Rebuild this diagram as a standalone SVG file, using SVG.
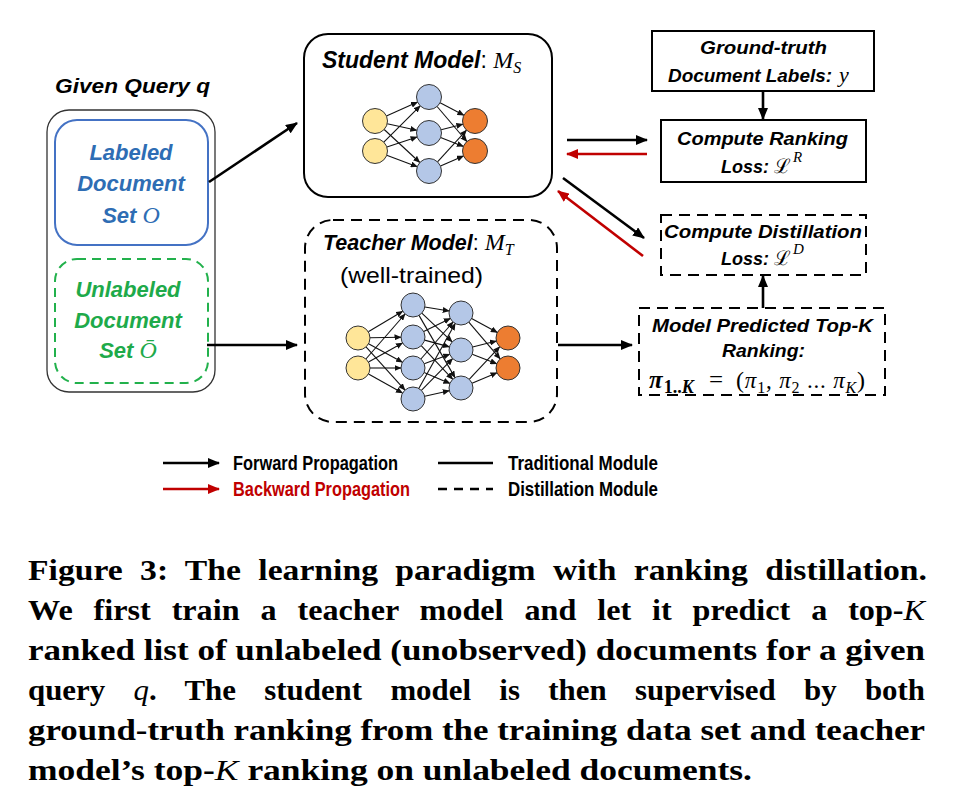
<svg xmlns="http://www.w3.org/2000/svg" width="954" height="810" viewBox="0 0 954 810">
<defs>
<marker id="ah" markerUnits="userSpaceOnUse" markerWidth="12" markerHeight="10" refX="11" refY="5" orient="auto">
<path d="M0,0 L12,5 L0,10 z" fill="#000"/>
</marker>
<marker id="ahr" markerUnits="userSpaceOnUse" markerWidth="12" markerHeight="10" refX="11" refY="5" orient="auto">
<path d="M0,0 L12,5 L0,10 z" fill="#C00000"/>
</marker>
<marker id="sa" markerUnits="userSpaceOnUse" markerWidth="7" markerHeight="6" refX="6.5" refY="3" orient="auto">
<path d="M0,0 L7,3 L0,6 z" fill="#111"/>
</marker>
</defs>
<style>
.lbl{font-family:"Liberation Sans",Arial,sans-serif;font-weight:bold;font-style:italic;fill:#000}
.math{font-family:"Liberation Serif","DejaVu Serif",serif;font-style:italic;font-weight:normal;fill:#000}
.scr{font-family:"DejaVu Serif","Liberation Serif",serif;font-style:normal;font-weight:normal;fill:#000}
.reg{font-family:"Liberation Sans",Arial,sans-serif;font-style:normal;font-weight:normal}
.leg{font-family:"Liberation Sans",Arial,sans-serif;font-weight:bold;font-size:20px;fill:#000}
.cap{font-family:"Liberation Serif","Times New Roman",serif;font-weight:bold;font-size:30px;fill:#000}
.it{font-style:italic;font-weight:normal}
.box{fill:#fff;stroke:#000;stroke-width:2}
.dash{stroke-dasharray:11 7}
.conn{stroke:#000;stroke-width:2.6;fill:none;marker-end:url(#ah)}
.connr{stroke:#C00000;stroke-width:2.6;fill:none;marker-end:url(#ahr)}
.net line{stroke:#111;stroke-width:1.1;marker-end:url(#sa)}
.cy{fill:#FFE699;stroke:#333;stroke-width:1}
.cb{fill:#B4C7E7;stroke:#333;stroke-width:1}
.co{fill:#ED7D31;stroke:#333;stroke-width:1}
</style>
<rect width="954" height="810" fill="#fff"/>

<g id="query">
<text class="lbl" x="55" y="93" font-size="20" textLength="155" lengthAdjust="spacingAndGlyphs">Given Query q</text>
<rect x="47" y="110" width="168" height="282" rx="22" fill="none" stroke="#333" stroke-width="1.3"/>
</g>

<g id="labeled">
<rect x="55" y="120" width="153" height="125" rx="22" fill="#fff" stroke="#4472C4" stroke-width="2"/>
<g class="lbl" font-size="22" text-anchor="middle">
<text x="131" y="160" style="fill:#2E6DB4">Labeled</text>
<text x="131" y="191" style="fill:#2E6DB4">Document</text>
<text x="131" y="223" style="fill:#2E6DB4">Set <tspan class="math" style="fill:#2E6DB4" font-size="24">O</tspan></text>
</g>
</g>

<g id="unlabeled">
<rect x="55" y="259" width="153" height="124" rx="22" fill="#fff" stroke="#22B14C" stroke-width="2" stroke-dasharray="9 6"/>
<g class="lbl" font-size="22" text-anchor="middle">
<text x="128" y="297" style="fill:#1EAA4A">Unlabeled</text>
<text x="128" y="328" style="fill:#1EAA4A">Document</text>
<text x="128" y="358" style="fill:#1EAA4A">Set <tspan class="math" style="fill:#1EAA4A" font-size="24">Ō</tspan></text>
</g>
</g>

<g id="student">
<rect class="box" x="304" y="34" width="248" height="163" rx="24"/>
<text class="lbl" x="322" y="68" font-size="23">Student Model<tspan class="reg">: </tspan><tspan class="math" font-size="24">M</tspan><tspan class="math" font-size="16" dy="5">S</tspan></text>
<g class="net">
<line x1="386.4" y1="115.9" x2="417.6" y2="102.1"/>
<line x1="387.2" y1="123.7" x2="416.8" y2="130.3"/>
<line x1="384.2" y1="129.5" x2="419.8" y2="162.5"/>
<line x1="383.8" y1="142.2" x2="420.2" y2="105.8"/>
<line x1="386.9" y1="147.0" x2="417.1" y2="137.0"/>
<line x1="386.7" y1="155.3" x2="417.3" y2="166.7"/>
<line x1="440.1" y1="102.8" x2="463.9" y2="115.2"/>
<line x1="437.1" y1="106.5" x2="466.9" y2="141.5"/>
<line x1="441.1" y1="129.8" x2="462.9" y2="124.2"/>
<line x1="440.6" y1="137.6" x2="463.4" y2="146.4"/>
<line x1="437.5" y1="161.8" x2="466.5" y2="130.2"/>
<line x1="440.5" y1="166.0" x2="463.5" y2="156.0"/>
</g>
<circle class="cy" cx="375" cy="121" r="12.5"/>
<circle class="cy" cx="375" cy="151" r="12.5"/>
<circle class="cb" cx="429" cy="97" r="12.5"/>
<circle class="cb" cx="429" cy="133" r="12.5"/>
<circle class="cb" cx="429" cy="171" r="12.5"/>
<circle class="co" cx="475" cy="121" r="12.5"/>
<circle class="co" cx="475" cy="151" r="12.5"/>
</g>

<g id="teacher">
<rect class="box dash" x="305" y="220" width="252" height="202" rx="28"/>
<text class="lbl" x="323" y="250" font-size="21.5">Teacher Model<tspan class="reg">: </tspan><tspan class="math" font-size="24">M</tspan><tspan class="math" font-size="16" dy="5">T</tspan></text>
<text x="340" y="283" font-family="Liberation Sans,Arial,sans-serif" font-size="22" textLength="143" lengthAdjust="spacingAndGlyphs">(well-trained)</text>
<g class="net">
<line x1="368.3" y1="331.8" x2="402.7" y2="311.2"/>
<line x1="370" y1="337.8" x2="401" y2="337.2"/>
<line x1="368.5" y1="343.7" x2="402.5" y2="362.3"/>
<line x1="366.0" y1="346.9" x2="405.0" y2="390.1"/>
<line x1="365.9" y1="359.0" x2="405.1" y2="314.0"/>
<line x1="368.5" y1="362.1" x2="402.5" y2="342.9"/>
<line x1="370" y1="368" x2="401" y2="368"/>
<line x1="368.5" y1="373.9" x2="402.5" y2="393.1"/>
<line x1="424.8" y1="307.0" x2="449.2" y2="311.0"/>
<line x1="421.8" y1="313.2" x2="452.2" y2="341.8"/>
<line x1="419.0" y1="315.4" x2="455.0" y2="377.6"/>
<line x1="423.7" y1="331.6" x2="450.3" y2="318.4"/>
<line x1="424.6" y1="340.1" x2="449.4" y2="346.9"/>
<line x1="421.2" y1="345.7" x2="452.8" y2="379.3"/>
<line x1="420.9" y1="359.0" x2="453.1" y2="322.0"/>
<line x1="424.2" y1="363.8" x2="449.8" y2="354.2"/>
<line x1="424.1" y1="372.6" x2="449.9" y2="383.4"/>
<line x1="418.8" y1="388.5" x2="455.2" y2="323.5"/>
<line x1="421.4" y1="390.4" x2="452.6" y2="358.6"/>
<line x1="424.7" y1="396.3" x2="449.3" y2="390.7"/>
<line x1="471.6" y1="318.6" x2="497.4" y2="332.4"/>
<line x1="468.8" y1="322.1" x2="500.2" y2="358.9"/>
<line x1="472.6" y1="347.0" x2="496.4" y2="341.0"/>
<line x1="472.2" y1="354.3" x2="496.8" y2="363.7"/>
<line x1="469.2" y1="379.3" x2="499.8" y2="346.7"/>
<line x1="472.0" y1="383.3" x2="497.0" y2="372.7"/>
</g>
<circle class="cy" cx="358" cy="338" r="12"/>
<circle class="cy" cx="358" cy="368" r="12"/>
<circle class="cb" cx="413" cy="305" r="12"/>
<circle class="cb" cx="413" cy="337" r="12"/>
<circle class="cb" cx="413" cy="368" r="12"/>
<circle class="cb" cx="413" cy="399" r="12"/>
<circle class="cb" cx="461" cy="313" r="12"/>
<circle class="cb" cx="461" cy="350" r="12"/>
<circle class="cb" cx="461" cy="388" r="12"/>
<circle class="co" cx="508" cy="338" r="12"/>
<circle class="co" cx="508" cy="368" r="12"/>
</g>

<g id="ground-truth">
<rect class="box" x="652" y="31" width="222" height="60"/>
<text class="lbl" x="700" y="54" font-size="19" textLength="127" lengthAdjust="spacingAndGlyphs">Ground-truth</text>
<text class="lbl" x="668" y="82" font-size="19" textLength="164" lengthAdjust="spacingAndGlyphs">Document Labels:</text>
<text class="math" x="839" y="82" font-size="22">y</text>
</g>

<g id="ranking-loss">
<rect class="box" x="661" y="120" width="205" height="62"/>
<text class="lbl" x="677" y="145" font-size="19" textLength="171" lengthAdjust="spacingAndGlyphs">Compute Ranking</text>
<text class="lbl" x="721" y="173" font-size="18">Loss: <tspan class="scr" font-size="20">ℒ</tspan><tspan class="math" font-size="15" dy="-11" dx="2">R</tspan></text>
</g>

<g id="distill-loss">
<rect class="box dash" x="661" y="215" width="205" height="60"/>
<text class="lbl" x="664" y="238" font-size="19" textLength="198" lengthAdjust="spacingAndGlyphs">Compute Distillation</text>
<text class="lbl" x="721" y="265" font-size="18">Loss: <tspan class="scr" font-size="20">ℒ</tspan><tspan class="math" font-size="15" dy="-11" dx="2">D</tspan></text>
</g>

<g id="topk">
<rect class="box dash" x="639" y="308" width="246" height="87"/>
<text class="lbl" x="652" y="332" font-size="19" textLength="221" lengthAdjust="spacingAndGlyphs">Model Predicted Top-K</text>
<text class="lbl" x="722" y="357" font-size="19" textLength="83" lengthAdjust="spacingAndGlyphs">Ranking:</text>
<text x="649" y="388" font-family="Liberation Serif,serif"><tspan font-size="25" font-style="italic" font-weight="bold">π</tspan><tspan font-size="18" font-weight="bold" dy="5" dx="1">1..<tspan font-style="italic">K</tspan></tspan></text>
<text x="709" y="388" font-family="Liberation Serif,serif" font-size="25">=</text>
<text x="736" y="388" font-family="Liberation Serif,serif" font-size="24" textLength="129" lengthAdjust="spacing">(<tspan class="math" font-size="23">π</tspan><tspan font-size="16" dy="5">1</tspan><tspan font-size="23" dy="-5">, </tspan><tspan class="math" font-size="23">π</tspan><tspan font-size="16" dy="5">2</tspan><tspan font-size="23" dy="-5"> ... </tspan><tspan class="math" font-size="23">π</tspan><tspan class="math" font-size="16" dy="5">K</tspan><tspan dy="-5">)</tspan></text>
</g>

<g id="connectors">
<line class="conn" x1="209" y1="182" x2="297" y2="123"/>
<line class="conn" x1="207" y1="345" x2="297" y2="345"/>
<line class="conn" x1="558" y1="345" x2="632" y2="345"/>
<line class="conn" x1="567" y1="140" x2="647" y2="140"/>
<line class="connr" x1="647" y1="154" x2="567" y2="154"/>
<line class="conn" x1="563" y1="178" x2="644" y2="238"/>
<line class="connr" x1="643" y1="256" x2="558" y2="191"/>
<line class="conn" x1="763" y1="91" x2="763" y2="119"/>
<line class="conn" x1="763" y1="308" x2="763" y2="276"/>
</g>

<g id="legend">
<line class="conn" x1="163" y1="463" x2="219" y2="463"/>
<text class="leg" x="233" y="470" textLength="165" lengthAdjust="spacingAndGlyphs">Forward Propagation</text>
<line class="connr" x1="163" y1="489" x2="219" y2="489"/>
<text class="leg" x="233" y="496" textLength="177" lengthAdjust="spacingAndGlyphs" style="fill:#C00000">Backward Propagation</text>
<line x1="438" y1="463" x2="493" y2="463" stroke="#000" stroke-width="2.6"/>
<text class="leg" x="508" y="470" textLength="150" lengthAdjust="spacingAndGlyphs">Traditional Module</text>
<line x1="438" y1="489" x2="493" y2="489" stroke="#000" stroke-width="2.6" stroke-dasharray="9 7"/>
<text class="leg" x="508" y="496" textLength="150" lengthAdjust="spacingAndGlyphs">Distillation Module</text>
</g>

<g id="caption">
<text class="cap" x="28" y="580" word-spacing="8" textLength="899" lengthAdjust="spacingAndGlyphs">Figure 3: The learning paradigm with ranking distillation.</text>
<text class="cap" x="28" y="620" word-spacing="12" textLength="897" lengthAdjust="spacingAndGlyphs">We first train a teacher model and let it predict a top-<tspan class="it">K</tspan></text>
<text class="cap" x="28" y="660" textLength="897" lengthAdjust="spacingAndGlyphs">ranked list of unlabeled (unobserved) documents for a given</text>
<text class="cap" x="28" y="700" word-spacing="20" textLength="897" lengthAdjust="spacingAndGlyphs">query <tspan class="it">q</tspan>. The student model is then supervised by both</text>
<text class="cap" x="28" y="740" textLength="897" lengthAdjust="spacingAndGlyphs">ground-truth ranking from the training data set and teacher</text>
<text class="cap" x="28" y="780" textLength="724" lengthAdjust="spacingAndGlyphs">model’s top-<tspan class="it">K</tspan> ranking on unlabeled documents.</text>
</g>
</svg>
